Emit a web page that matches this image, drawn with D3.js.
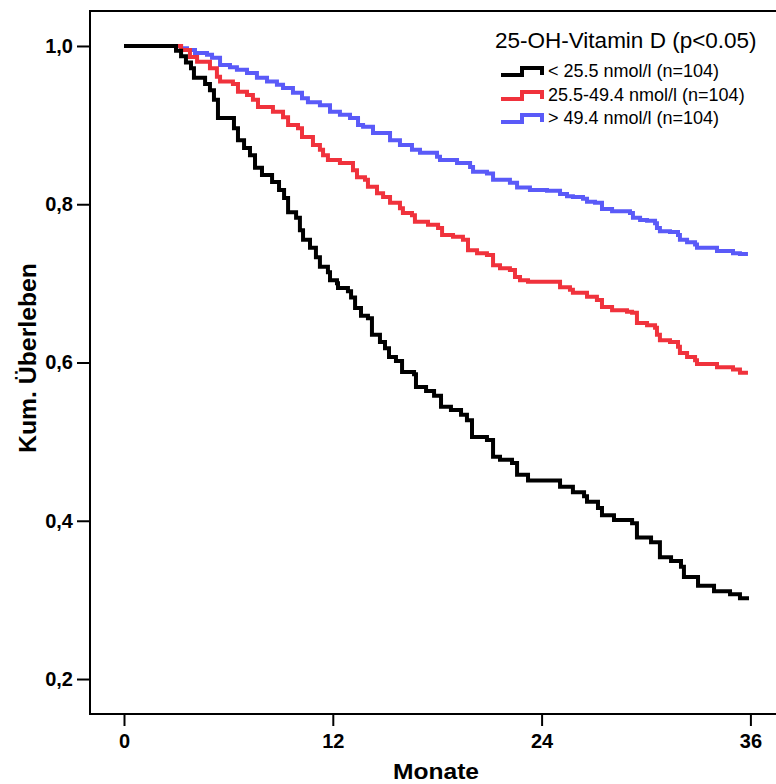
<!DOCTYPE html>
<html>
<head>
<meta charset="utf-8">
<script src="https://cdn.jsdelivr.net/npm/d3@7"></script>
<style>
    body { margin: 0; background: #fff; }
    text { font-family: "Liberation Sans", Arial, Helvetica, sans-serif; }
</style>
</head>
<body>
<svg id="chart"></svg>
<script>
// Chart values
let xTicks = [0, 12, 24, 36]
let yTicks = [0.2, 0.4, 0.6, 0.8, 1.0]
let legendTitle = "25-OH-Vitamin D (p<0.05)"
let groupNames = ["< 25.5 nmol/l (n=104)", "25.5-49.4 nmol/l (n=104)", "> 49.4 nmol/l (n=104)"]
let groupColors = ["#000000", "#f0323c", "#5a5af8"]
let endTimes = [35.92, 35.86, 35.86]

// step times (months) and survival after each step
let lowTimes = [2.99, 3.28, 3.56, 3.85, 4.02, 4.66, 4.94, 5.17, 5.40, 6.32, 6.55, 6.90, 7.24, 7.53, 7.93,
    8.51, 8.91, 9.20, 9.43, 9.89, 10.11, 10.29, 10.69, 11.03, 11.26, 11.72, 11.84, 12.24, 12.30, 12.87,
    13.05, 13.28, 13.62, 14.02, 14.25, 14.71, 15.00, 15.23, 15.63, 15.98, 16.67, 16.78, 17.36, 17.82,
    18.22, 18.79, 19.37, 19.71, 20.00, 20.86, 21.21, 21.61, 22.30, 22.59, 23.22, 25.06, 25.80, 26.44,
    26.61, 27.24, 27.47, 28.16, 29.20, 29.48, 30.29, 30.80, 31.44, 32.01, 32.18, 32.99, 33.91, 34.83, 35.40]
let lowSurv = [0.994, 0.987, 0.979, 0.972, 0.960, 0.952, 0.944, 0.932, 0.909, 0.896, 0.881, 0.871, 0.862, 0.846, 0.837,
    0.828, 0.818, 0.808, 0.790, 0.783, 0.767, 0.755, 0.745, 0.733, 0.721, 0.714, 0.704, 0.700, 0.694, 0.690,
    0.682, 0.669, 0.659, 0.656, 0.635, 0.626, 0.618, 0.607, 0.602, 0.588, 0.585, 0.569, 0.564, 0.558,
    0.544, 0.540, 0.534, 0.527, 0.506, 0.502, 0.481, 0.477, 0.473, 0.458, 0.451, 0.443, 0.436, 0.431,
    0.424, 0.416, 0.407, 0.401, 0.397, 0.379, 0.373, 0.354, 0.349, 0.342, 0.329, 0.318, 0.311, 0.307, 0.302]

let midTimes = [3.28, 3.79, 4.20, 4.94, 5.34, 5.52, 6.26, 6.55, 7.07, 7.41, 7.70, 8.56, 9.14, 9.43, 10.00,
    10.23, 10.86, 11.26, 11.44, 11.72, 12.41, 13.16, 13.39, 13.85, 14.02, 14.54, 14.89, 15.29, 15.86,
    16.03, 16.55, 16.72, 17.47, 18.05, 18.28, 18.91, 19.48, 19.77, 20.29, 20.86, 21.21, 21.61, 22.18,
    22.47, 22.76, 23.22, 25.06, 25.63, 25.80, 26.61, 27.18, 27.47, 28.05, 28.91, 29.20, 29.48, 30.06,
    30.52, 30.63, 30.80, 31.38, 31.84, 31.95, 32.36, 32.82, 32.93, 34.08, 35.00, 35.40]
let midSurv = [0.995, 0.986, 0.980, 0.972, 0.961, 0.955, 0.952, 0.942, 0.938, 0.932, 0.923, 0.917, 0.910, 0.900, 0.896,
    0.885, 0.875, 0.869, 0.862, 0.856, 0.852, 0.843, 0.834, 0.831, 0.822, 0.814, 0.809, 0.802, 0.795,
    0.789, 0.786, 0.778, 0.774, 0.770, 0.761, 0.759, 0.755, 0.742, 0.738, 0.736, 0.723, 0.719, 0.717,
    0.708, 0.704, 0.702, 0.695, 0.692, 0.688, 0.683, 0.679, 0.670, 0.666, 0.664, 0.663, 0.650, 0.647,
    0.644, 0.635, 0.628, 0.626, 0.620, 0.612, 0.607, 0.603, 0.598, 0.594, 0.591, 0.587]

let highTimes = [3.28, 3.62, 4.08, 4.77, 5.06, 5.52, 6.09, 6.49, 7.07, 7.64, 8.22, 8.79, 9.14, 9.71, 10.23,
    10.57, 11.26, 11.84, 12.41, 12.99, 13.45, 13.74, 14.31, 15.29, 15.86, 16.55, 17.01, 17.99, 18.16,
    19.14, 19.89, 20.06, 20.86, 21.21, 22.18, 22.59, 23.33, 24.31, 25.06, 25.46, 25.80, 26.38, 26.61,
    27.07, 27.47, 28.05, 29.08, 29.25, 29.66, 30.06, 30.52, 30.63, 30.80, 31.38, 31.84, 31.95, 32.36,
    32.82, 32.93, 34.08, 35.00, 35.40]
let highSurv = [0.997, 0.995, 0.991, 0.989, 0.985, 0.976, 0.973, 0.970, 0.966, 0.960, 0.955, 0.951, 0.947, 0.941, 0.934,
    0.929, 0.925, 0.917, 0.913, 0.909, 0.900, 0.898, 0.890, 0.881, 0.875, 0.869, 0.865, 0.860, 0.856,
    0.852, 0.847, 0.841, 0.839, 0.831, 0.827, 0.821, 0.818, 0.817, 0.813, 0.810, 0.809, 0.807, 0.803,
    0.802, 0.794, 0.791, 0.789, 0.783, 0.780, 0.779, 0.776, 0.770, 0.766, 0.765, 0.761, 0.755, 0.752,
    0.749, 0.745, 0.741, 0.738, 0.737]

let stepTimes = [lowTimes, midTimes, highTimes]
let stepSurv = [lowSurv, midSurv, highSurv]

let svg = d3.select("#chart").attr("width", 776).attr("height", 784)
drawChart(svg)

// Build the Kaplan-Meier points for a group: start at (0,1), end at the last follow-up
function groupPoints(g) {
    let pts = [[0, 1]]
    stepTimes[g].forEach((t, i) => pts.push([t, stepSurv[g][i]]))
    pts.push([endTimes[g], stepSurv[g][stepSurv[g].length - 1]])
    return pts
}

function drawChart(svg) {
    let x = d3.scaleLinear().domain([0, 36]).range([124, 750.4])
    let y = d3.scaleLinear().domain([0.1558, 1.0442]).range([714, 11])

    // frame: left, top and bottom lines
    svg.append("path")
        .attr("d", "M776,11H90V714H776")
        .attr("fill", "none")
        .attr("stroke", "#000")
        .attr("stroke-width", 2)

    // X axis
    let xAxis = d3.axisBottom(x).tickValues(xTicks).tickSize(12).tickPadding(8)
    let gx = svg.append("g").attr("transform", "translate(0,714)").call(xAxis)
    gx.select(".domain").remove()
    gx.selectAll("line").attr("stroke-width", 2)
    gx.selectAll("text").style("font-size", "20px").style("font-weight", "bold").attr("fill", "#000")

    // Y axis
    let yAxis = d3.axisLeft(y).tickValues(yTicks).tickSize(13).tickPadding(4)
        .tickFormat(d => d3.format(".1f")(d).replace(".", ","))
    let gy = svg.append("g").attr("transform", "translate(90,0)").call(yAxis)
    gy.select(".domain").remove()
    gy.selectAll("line").attr("stroke-width", 2)
    gy.selectAll("text").style("font-size", "20px").style("font-weight", "bold").attr("fill", "#000")

    // axis titles
    svg.append("text").attr("x", 436).attr("y", 779).attr("text-anchor", "middle")
        .attr("textLength", 86).attr("lengthAdjust", "spacingAndGlyphs")
        .style("font-size", "22px").style("font-weight", "bold").text("Monate")
    svg.append("text").attr("transform", "translate(36,358) rotate(-90)").attr("text-anchor", "middle")
        .attr("textLength", 190).attr("lengthAdjust", "spacingAndGlyphs")
        .style("font-size", "23px").style("font-weight", "bold").text("Kum. Überleben")

    // survival curves, drawn high group first so black lies on top
    let line = d3.line().x(d => x(d[0])).y(d => y(d[1])).curve(d3.curveStepAfter)
    for (let g = 2; g >= 0; g--) {
        svg.append("path")
            .datum(groupPoints(g))
            .attr("fill", "none")
            .attr("stroke", groupColors[g])
            .attr("stroke-width", 4)
            .attr("d", line)
    }

    // legend
    svg.append("text").attr("x", 495).attr("y", 48)
        .style("font-size", "22.5px").text(legendTitle)
    let rowY = [71, 95, 118]
    for (let g = 0; g < 3; g++) {
        let cy = rowY[g]
        svg.append("path")
            .attr("d", "M501," + (cy + 4) + "H522V" + (cy - 3) + "H542V" + (cy + 4))
            .attr("fill", "none")
            .attr("stroke", groupColors[g])
            .attr("stroke-width", 4)
        svg.append("text").attr("x", 548).attr("y", cy + 6)
            .style("font-size", "18px").text(groupNames[g])
    }
}
</script>
</body>
</html>
